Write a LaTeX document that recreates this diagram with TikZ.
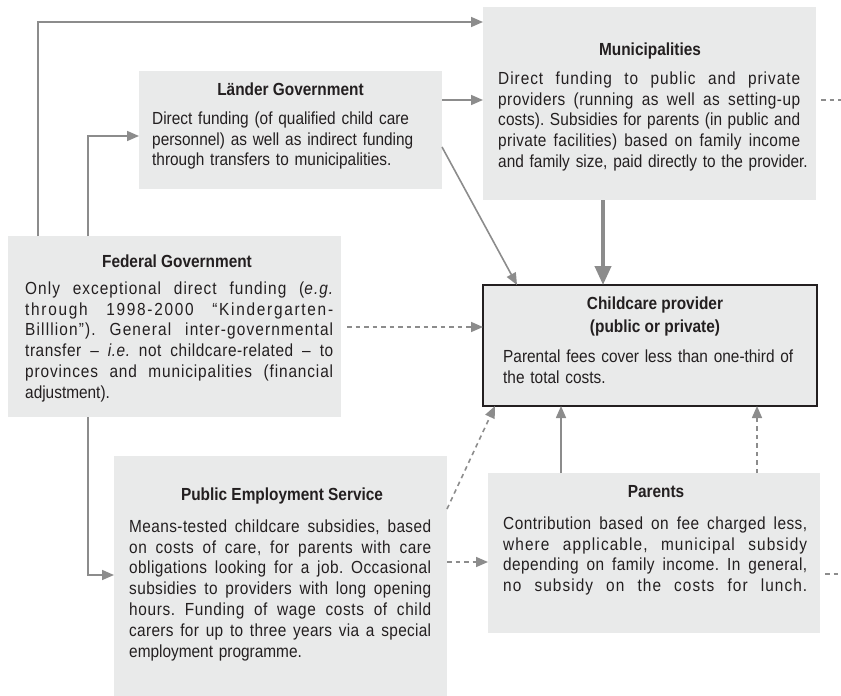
\documentclass[tikz,border=0pt]{standalone}
\usepackage{fontspec}
\setmainfont{Liberation Sans}[FakeStretch=0.88]
\usetikzlibrary{arrows.meta}
\definecolor{boxfill}{HTML}{E9EAEA}
\definecolor{ln}{HTML}{8C8C8C}
\definecolor{ink}{HTML}{231F20}
\newlength\tw
\XeTeXinterchartoks 0 0 = {\hskip 0pt plus 0.12fil\relax}
\newcommand\jbox[1]{\leavevmode\hbox to \tw{\spaceskip=\fontdimen2\font plus 1fil\relax\XeTeXinterchartokenstate=1 #1}}
\newcommand\jl[1]{\jbox{#1}\\}
\newcommand\jlast[1]{\jbox{#1}}
\newcommand\fst{\rule{0pt}{13pt}}
\frenchspacing
\begin{document}
\begin{tikzpicture}[x=1pt,y=-1pt,
  box/.style={fill=boxfill, draw=none, inner sep=0pt, outer sep=0pt, anchor=north west},
  body/.style={anchor=north west, inner sep=0pt, align=left, text=ink,
    font=\fontsize{17.5}{20.8}\selectfont\frenchspacing, text width=#1,
    execute at begin node={\setlength{\tw}{#1}}},
  ttl/.style={anchor=north, inner sep=0pt, align=center, text=ink,
    font=\fontsize{17.5}{23}\selectfont\bfseries},
  conn/.style={draw=ln, line width=1.6pt, -{Triangle[length=12pt,width=10pt]}},
  dconn/.style={conn, dash pattern=on 4.5pt off 4pt},
  dline/.style={draw=ln, line width=1.6pt, dash pattern=on 4.5pt off 4pt},
  thickconn/.style={draw=ln, line width=4pt, -{Triangle[length=19pt,width=16pt]}}]
\useasboundingbox (0,0) rectangle (841,696);

% boxes
\node[box, minimum width=303pt, minimum height=118pt] (lan) at (139,71) {};
\node[box, minimum width=333pt, minimum height=193pt] (mun) at (483,7) {};
\node[box, minimum width=333pt, minimum height=181pt] (fed) at (8,236) {};
\node[box, minimum width=334pt, minimum height=121pt, draw=ink, line width=1.5pt] (cc) at (483,285) {};
\node[box, minimum width=333pt, minimum height=240pt] (pes) at (114,456) {};
\node[box, minimum width=332pt, minimum height=160pt] (par) at (488,473) {};

% connectors
\draw[conn] ([xshift=30pt]fed.north west) |- ([yshift=-15pt]mun.north west);
\draw[conn] ([xshift=80pt]fed.north west) |- ([yshift=-65pt]lan.north west);
\draw[conn] ([xshift=80pt]fed.south west) |- ([yshift=-119pt]pes.north west);
\draw[conn] ([yshift=-29pt]lan.north east) -- ([yshift=-93pt]mun.north west);
\draw[conn] ([yshift=-76pt]lan.north east) -- ([xshift=34pt]cc.north west);
\draw[thickconn] ([xshift=120pt]mun.south west) -- ([xshift=120pt]cc.north west);
\draw[dconn] ([xshift=6pt,yshift=-91pt]fed.north east) -- ([yshift=-42pt]cc.north west);
\draw[dconn] ([yshift=-53pt]pes.north east) -- ([xshift=12pt]cc.south west);
\draw[dconn] ([yshift=-106pt]pes.north east) -- ([yshift=-89pt]par.north west);
\draw[conn] ([xshift=73pt]par.north west) -- ([xshift=78pt]cc.south west);
\draw[dconn] ([xshift=269pt]par.north west) -- ([xshift=274pt]cc.south west);
\coordinate (munout) at (841,100);
\coordinate (parout) at (841,574);
\draw[dline] ([xshift=5pt,yshift=-93pt]mun.north east) -- (munout);
\draw[dline] ([xshift=5pt,yshift=-101pt]par.north east) -- (parout);

% texts
\node[ttl] (lant) at (290.5,82) {\fst Länder Government};
\node[body=280pt] (lanb) at (152,111) {\fst Direct funding (of qualified child care\\
personnel) as well as indirect funding\\
through transfers to municipalities.};

\node[ttl] (munt) at (650,42) {\fst Municipalities};
\node[body=302pt] (munb) at (498,71) {\jl{\fst Direct funding to public and private}
\jl{providers (running as well as setting-up}
\jl{costs). Subsidies for parents (in public and}
\jl{private facilities) based on family income}
\leavevmode\hbox{and family size, paid directly to the provider.}};

\node[ttl] (fedt) at (177,254) {\fst Federal Government};
\node[body=308pt] (fedb) at (25,281) {\jl{\fst Only exceptional direct funding (\textit{e.g.}}
\jl{through 1998-2000 “Kindergarten-}
\jl{Billlion”). General inter-governmental}
\jl{transfer – \textit{i.e.} not childcare-related – to}
\jl{provinces and municipalities (financial}
adjustment).};

\node[ttl] (cct) at (655,296) {\fst Childcare provider\\(public or private)};
\node[body=303pt] (ccb) at (503,349) {\fst Parental fees cover less than one-third of\\
the total costs.};

\node[ttl] (pest) at (282,487) {\fst Public Employment Service};
\node[body=302pt] (pesb) at (129,519) {\jl{\fst Means-tested childcare subsidies, based}
\jl{on costs of care, for parents with care}
\jl{obligations looking for a job. Occasional}
\jl{subsidies to providers with long opening}
\jl{hours. Funding of wage costs of child}
\jl{carers for up to three years via a special}
employment programme.};

\node[ttl] (part) at (656,484) {\fst Parents};
\node[body=304pt] (parb) at (503,516) {\jl{\fst Contribution based on fee charged less,}
\jl{where applicable, municipal subsidy}
\jl{depending on family income. In general,}
\jlast{no subsidy on the costs for lunch.}};
\end{tikzpicture}
\end{document}
